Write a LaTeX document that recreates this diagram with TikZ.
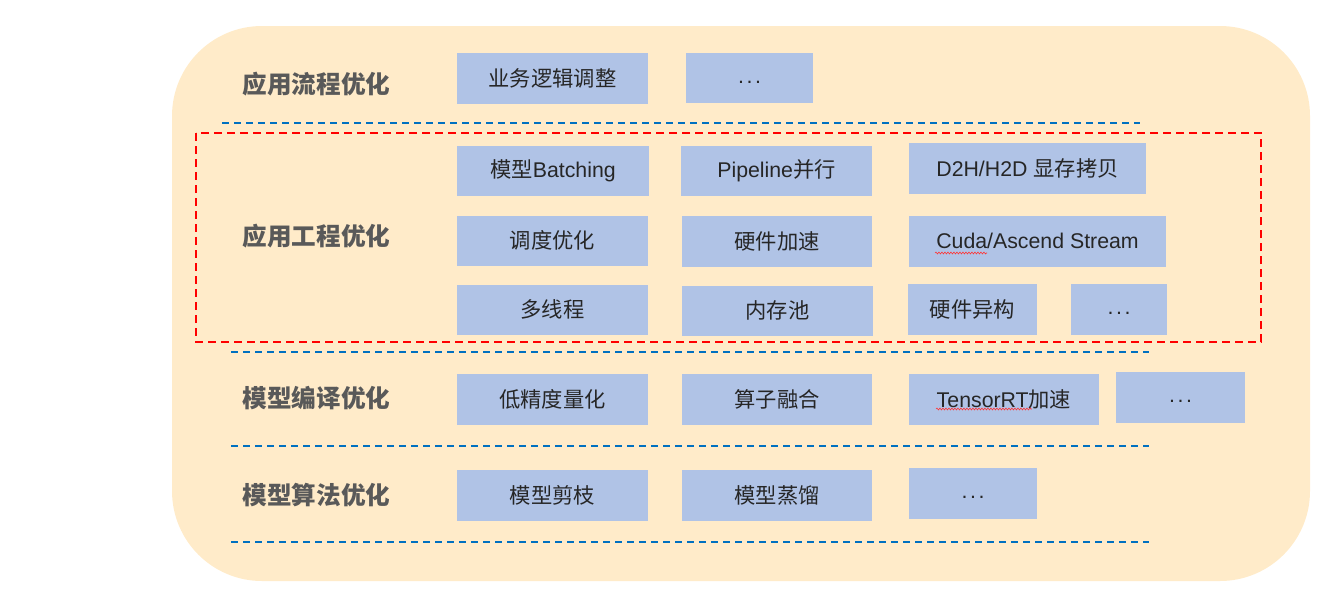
\documentclass[tikz,border=0pt]{standalone}
\usepackage{fontspec}
\setmainfont{Liberation Sans}
\newfontfamily\cjk{Noto Sans CJK SC}
\usetikzlibrary{decorations.pathmorphing}
\definecolor{bgorange}{HTML}{FFEBC9}
\definecolor{boxblue}{HTML}{B0C3E6}
\definecolor{lblgray}{HTML}{595959}
\definecolor{txtdark}{HTML}{262626}
\definecolor{dashblue}{HTML}{0070C0}
\definecolor{dashred}{HTML}{FF0000}
\tikzset{
  box/.style={fill=boxblue, inner sep=0pt, text=txtdark, font=\fontsize{21.3}{25}\selectfont},
  lbl/.style={text=lblgray, font=\cjk\bfseries\fontsize{24.6}{28}\selectfont},
  bluedash/.style={draw=dashblue, line width=2pt, dash pattern=on 7pt off 5pt},
  reddash/.style={draw=dashred, line width=2pt, dash pattern=on 8pt off 5pt},
  squig/.style={draw=red!80, line width=0.6pt, decorate, decoration={snake, amplitude=0.9pt, segment length=3pt}}
}
\newcommand{\myell}{\vphantom{Ag}.\hspace{0.12em}.\hspace{0.12em}.}
\begin{document}
\begin{tikzpicture}[x=1pt,y=-1pt]
\useasboundingbox (0,0) rectangle (1322,600);
\fill[bgorange, rounded corners=90pt] (172,26) rectangle (1310,581);

% labels
\node[lbl] (l1) at (316.5,84) {应用流程优化};
\node[lbl] (l2) at (316.5,236) {应用工程优化};
\node[lbl] (l3) at (316.5,398) {模型编译优化};
\node[lbl] (l4) at (316.5,495) {模型算法优化};

% row 1
\node[box,minimum width=191pt,minimum height=51pt] (b11) at (552.5,78) {\cjk 业务逻辑调整};
\node[box,minimum width=127pt,minimum height=50pt] (b12) at (749.5,78) {\myell};

% row 2
\node[box,minimum width=192pt,minimum height=50pt] (b21) at (553,170.5) {{\cjk 模型}Batching};
\node[box,minimum width=191pt,minimum height=50pt] (b22) at (776.5,170.5) {Pipeline{\cjk 并行}};
\node[box,minimum width=237pt,minimum height=51pt] (b23) at (1027.5,168) {D2H/H2D {\cjk 显存拷贝}};
\node[box,minimum width=191pt,minimum height=50pt] (b31) at (552.5,240.5) {\cjk 调度优化};
\node[box,minimum width=190pt,minimum height=51pt] (b32) at (777,241) {\cjk 硬件加速};
\node[box,minimum width=257pt,minimum height=51pt] (b33) at (1037.5,241) {Cuda/Ascend Stream};
\node[box,minimum width=191pt,minimum height=50pt] (b41) at (552.5,309.5) {\cjk 多线程};
\node[box,minimum width=191pt,minimum height=50pt] (b42) at (777.5,310.5) {\cjk 内存池};
\node[box,minimum width=129pt,minimum height=51pt] (b43) at (972.5,309.5) {\cjk 硬件异构};
\node[box,minimum width=96pt,minimum height=51pt] (b44) at (1119,309.5) {\myell};

% row 3
\node[box,minimum width=191pt,minimum height=51pt] (c1) at (552.5,399) {\cjk 低精度量化};
\node[box,minimum width=190pt,minimum height=51pt] (c2) at (777,399) {\cjk 算子融合};
\node[box,minimum width=190pt,minimum height=51pt] (c3) at (1004,399) {TensorRT{\cjk 加速}};
\node[box,minimum width=129pt,minimum height=51pt] (c4) at (1180.5,397.5) {\myell};

% row 4
\node[box,minimum width=191pt,minimum height=51pt] (d1) at (552.5,495) {\cjk 模型剪枝};
\node[box,minimum width=190pt,minimum height=51pt] (d2) at (777,495) {\cjk 模型蒸馏};
\node[box,minimum width=128pt,minimum height=51pt] (d3) at (973,493.5) {\myell};

% spell-check squiggles
\coordinate (s1a) at (935,253); \coordinate (s1b) at (987,253);
\coordinate (s2a) at (936,409); \coordinate (s2b) at (1032,409);
\draw[squig] (s1a) -- (s1b);
\draw[squig] (s2a) -- (s2b);

% dashed separators
\coordinate (h1a) at (222,123); \coordinate (h1b) at (1140,123);
\coordinate (h2a) at (231,352); \coordinate (h2b) at (1149,352);
\coordinate (h3a) at (231,446); \coordinate (h3b) at (1149,446);
\coordinate (h4a) at (231,542); \coordinate (h4b) at (1149,542);
\draw[bluedash] (h1a) -- (h1b);
\draw[bluedash] (h2a) -- (h2b);
\draw[bluedash] (h3a) -- (h3b);
\draw[bluedash] (h4a) -- (h4b);

% red dashed frame
\coordinate (r1) at (196,133); \coordinate (r2) at (1261,342);
\draw[reddash] (r1) rectangle (r2);
\end{tikzpicture}
\end{document}
